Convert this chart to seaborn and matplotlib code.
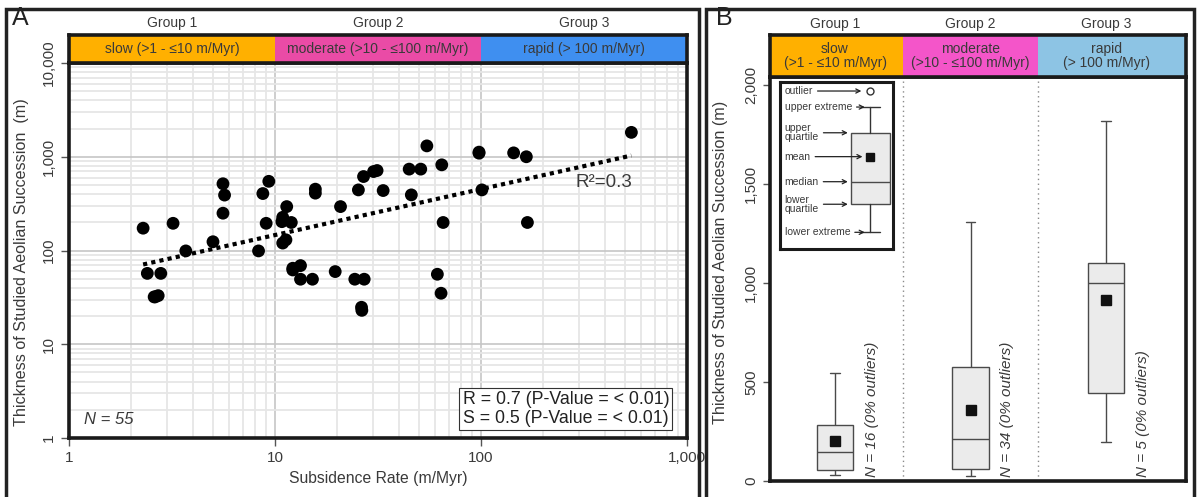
import numpy as np
import pandas as pd
import seaborn as sns
import matplotlib.pyplot as plt
from matplotlib.patches import Rectangle
from matplotlib.ticker import FixedLocator, FuncFormatter, LogLocator, NullFormatter

# Subsidence rate (m/Myr) vs thickness of studied aeolian succession (m)
rate_g1 = [2.29, 3.2, 2.40, 2.79, 2.59, 2.71, 3.69, 5.0, 5.59, 5.69, 5.59, 8.73, 9.33, 9.06, 8.32, 2.62]
thick_g1 = [173, 195, 57, 57, 32, 33, 99, 124, 515, 390, 250, 405, 547, 195, 99, 32]

rate_g2 = [11.4, 10.9, 12.0, 10.8, 11.3, 10.9, 12.2, 13.3, 13.3, 15.2, 19.6, 24.4, 27.1, 26.3,
           15.7, 15.7, 20.8, 25.4, 26.9, 30.1, 31.3, 33.5, 44.8, 51.0, 45.9, 54.6, 64.5, 65.5,
           61.4, 64.0, 97.8, 97.8, 12.2, 26.4]
thick_g2 = [294, 226, 199, 203, 130, 120, 64.7, 69, 49.4, 49.4, 59.6, 49.4, 49.4, 24.8,
            451, 409, 294, 443, 615, 695, 713, 436, 738, 738, 392, 1306, 820, 199,
            55.8, 35, 1092, 1120, 62, 23]

rate_g3 = [101, 144, 166, 168, 537]
thick_g3 = [443, 1100, 1000, 199, 1820]

group_names = ['Group 1', 'Group 2', 'Group 3']
rate_bounds = [1, 10, 100, 1000]
class_a = ['slow (>1 - ≤10 m/Myr)', 'moderate (>10 - ≤100 m/Myr)', 'rapid (> 100 m/Myr)']
class_b = ['slow\n(>1 - ≤10 m/Myr)', 'moderate\n(>10 - ≤100 m/Myr)', 'rapid\n(> 100 m/Myr)']
colors_a = ['#FFB000', '#EA4BA6', '#3F8FF0']
colors_b = ['#FFB000', '#F455C9', '#8DC4E4']
stats_text = ['R = 0.7 (P-Value = < 0.01)', 'S = 0.5 (P-Value = < 0.01)']
r2_text = 'R²=0.3'

# schematic box for the key in panel B (relative units)
key_stats = dict(whislo=0.10, q1=0.268, med=0.403, mean=0.553, q3=0.696, whishi=0.85, fliers=[0.946])
key_labels = ['outlier', 'upper extreme', 'upper\nquartile', 'mean', 'median', 'lower\nquartile', 'lower extreme']
key_y = [0.946, 0.85, 0.696, 0.553, 0.403, 0.268, 0.10]
key_tip = [0.72, 0.75, 0.60, 0.73, 0.60, 0.60, 0.75]

df = pd.DataFrame({
    'rate': rate_g1 + rate_g2 + rate_g3,
    'thickness': thick_g1 + thick_g2 + thick_g3,
})
df['group'] = pd.cut(df['rate'], bins=rate_bounds, labels=group_names, right=True).astype(str)

sns.set_theme(style='white')
plt.rcParams['font.family'] = ['Liberation Sans', 'DejaVu Sans']
txt_col = '#3a3a3a'

W, H = 1198, 497
fig = plt.figure(figsize=(W / 100, H / 100), dpi=100)


def rect(l, t, r, b):
    return [l / W, 1 - b / H, (r - l) / W, (b - t) / H]


# outer panel frames
for x0, x1 in [(6, 699), (706, 1194)]:
    fig.add_artist(Rectangle((x0 / W, -10 / H), (x1 - x0) / W, (H + 10 - 9) / H, fill=False,
                             lw=2.5, ec='#222222', transform=fig.transFigure, clip_on=False))
fig.text(12 / W, 1 - 18 / H, 'A', fontsize=18, va='center', ha='left', color='#222')
fig.text(716 / W, 1 - 18 / H, 'B', fontsize=18, va='center', ha='left', color='#222')

# ---------------- panel A ----------------
ax_a = fig.add_axes(rect(69, 63, 687, 438))
ax_a.set_xscale('log')
ax_a.set_yscale('log')
ax_a.set_xlim(1, 1000)
ax_a.set_ylim(1, 10000)
for axis in (ax_a.xaxis, ax_a.yaxis):
    axis.set_major_locator(LogLocator(base=10))
    axis.set_minor_locator(LogLocator(base=10, subs=np.arange(2, 10)))
    axis.set_minor_formatter(NullFormatter())
    axis.set_major_formatter(FuncFormatter(lambda v, p: f'{v:,.0f}'))
ax_a.grid(which='minor', color='#E6E6E6', lw=1.3)
ax_a.grid(which='major', color='#C6C6C6', lw=1.2)
ax_a.set_axisbelow(True)

sns.scatterplot(data=df, x='rate', y='thickness', color='black', s=85, edgecolor='none',
                ax=ax_a, zorder=3, legend=False)

# power-law fit (straight line in log-log space)
lx = np.log10(df['rate'])
ly = np.log10(df['thickness'])
slope, icpt = np.polyfit(lx, ly, 1)
xf = np.array([df['rate'].min(), df['rate'].max()])
ax_a.plot(xf, 10 ** (icpt + slope * np.log10(xf)), color='black', lw=3, ls=(0, (1, 1)), zorder=4)
ax_a.text(0.865, 0.67, r2_text, transform=ax_a.transAxes, fontsize=13.5, color=txt_col, ha='center')

ax_a.text(0.637, 0.03, '\n'.join(stats_text), transform=ax_a.transAxes, fontsize=12.8,
          color='#222', ha='left', va='bottom', linespacing=1.12,
          bbox=dict(boxstyle='square,pad=0.18', fc='white', ec='#333', lw=0.8))
ax_a.text(0.025, 0.03, 'N = 55', transform=ax_a.transAxes, fontsize=12, style='italic',
          color=txt_col, ha='left', va='bottom')

ax_a.set_xlabel('Subsidence Rate (m/Myr)', fontsize=11.3, color=txt_col, labelpad=4)
ax_a.set_ylabel('Thickness of Studied Aeolian Succession  (m)', fontsize=11.6, color=txt_col)
ax_a.yaxis.set_label_coords(-0.064, 0.47)
ax_a.tick_params(which='major', length=6, width=1, direction='out', colors='#555',
                 labelcolor=txt_col, labelsize=11, bottom=True, left=True)
ax_a.tick_params(which='minor', length=0)
ax_a.tick_params(axis='y', labelrotation=90)
for t in ax_a.get_yticklabels():
    t.set_va('center')
for s in ax_a.spines.values():
    s.set_linewidth(2.6)
    s.set_color('#1a1a1a')

hdr_a = fig.add_axes(rect(69, 35, 687, 63))
hdr_a.set_xscale('log')
hdr_a.set_xlim(1, 1000)
hdr_a.set_ylim(0, 1)
for lo, hi, c, lab, g in zip(rate_bounds[:-1], rate_bounds[1:], colors_a, class_a, group_names):
    hdr_a.axvspan(lo, hi, color=c, lw=0)
    mid = np.sqrt(lo * hi)
    hdr_a.text(mid, 0.5, lab, ha='center', va='center', fontsize=10, color=txt_col)
    hdr_a.text(mid, 1.42, g, ha='center', va='center', fontsize=10, color=txt_col)
hdr_a.set_xticks([])
hdr_a.set_yticks([])
hdr_a.minorticks_off()
for s in hdr_a.spines.values():
    s.set_linewidth(2.6)
    s.set_color('#1a1a1a')

# ---------------- panel B ----------------
xl_b = (-0.48, 2.59)
ax_b = fig.add_axes(rect(770, 77, 1186, 481))
sns.boxplot(data=df, x='group', y='thickness', order=group_names, width=0.27,
            color='#EBEBEB', saturation=1, linecolor='#4a4a4a', linewidth=1,
            showmeans=True, whis=1.5, fliersize=5,
            meanprops=dict(marker='s', markerfacecolor='#111', markeredgecolor='#111', markersize=7),
            ax=ax_b)
# shorter whisker caps, as in the original figure
for ln in ax_b.lines:
    xd, yd = np.asarray(ln.get_xdata(), float), np.asarray(ln.get_ydata(), float)
    if len(xd) == 2 and yd[0] == yd[1] and abs(abs(xd[1] - xd[0]) - 0.135) < 0.01:
        c = xd.mean()
        ln.set_xdata([c - 0.035, c + 0.035])
ax_b.set_xlim(*xl_b)
ax_b.set_ylim(0, 2040)
for xs in [0.5, 1.5]:
    ax_b.axvline(xs, color='#8a8a8a', lw=1, ls=(0, (1, 2.5)))

for i, g in enumerate(group_names):
    vals = df.loc[df['group'] == g, 'thickness'].to_numpy()
    q1, q3 = np.percentile(vals, [25, 75])
    out = np.mean((vals < q1 - 1.5 * (q3 - q1)) | (vals > q3 + 1.5 * (q3 - q1))) * 100
    ax_b.text(i + 0.27, 18, f'N = {len(vals)} ({out:.0f}% outliers)', rotation=90, ha='center',
              va='bottom', fontsize=11, style='italic', color=txt_col)

ax_b.yaxis.set_major_locator(FixedLocator([0, 500, 1000, 1500, 2000]))
ax_b.yaxis.set_major_formatter(FuncFormatter(lambda v, p: f'{v:,.0f}'))
ax_b.set_xticks([])
ax_b.set_xlabel('')
ax_b.set_ylabel('Thickness of Studied Aeolian Succession (m)', fontsize=11.6, color=txt_col)
ax_b.yaxis.set_label_coords(-0.1, 0.54)
ax_b.tick_params(axis='y', length=5, width=1, direction='out', colors='#555',
                 labelcolor=txt_col, labelsize=11, labelrotation=90, left=True)
for t in ax_b.get_yticklabels():
    t.set_va('center')
for s in ax_b.spines.values():
    s.set_linewidth(2.6)
    s.set_color('#1a1a1a')

hdr_b = fig.add_axes(rect(770, 35, 1186, 77))
hdr_b.set_xlim(*xl_b)
hdr_b.set_ylim(0, 1)
edges_b = [-0.5, 0.5, 1.5, 2.6]
for i, (c, lab, g) in enumerate(zip(colors_b, class_b, group_names)):
    hdr_b.axvspan(edges_b[i], edges_b[i + 1], color=c, lw=0)
    hdr_b.text(i, 0.5, lab, ha='center', va='center', fontsize=10, color=txt_col, linespacing=1.0)
    hdr_b.text(i, 1.27, g, ha='center', va='center', fontsize=10, color=txt_col)
hdr_b.set_xticks([])
hdr_b.set_yticks([])
for s in hdr_b.spines.values():
    s.set_linewidth(2.6)
    s.set_color('#1a1a1a')

# key explaining the box plot
ax_k = ax_b.inset_axes([10 / 416, (481 - 249) / 404, 113 / 416, 167 / 404])
ax_k.set_xlim(0, 1)
ax_k.set_ylim(0, 1)
ax_k.bxp([dict(key_stats)], positions=[0.80], widths=0.34, showmeans=True, patch_artist=True,
         boxprops=dict(facecolor='#EBEBEB', edgecolor='#4a4a4a', lw=1),
         medianprops=dict(color='#4a4a4a', lw=1),
         whiskerprops=dict(color='#333', lw=1), capprops=dict(color='#333', lw=1),
         flierprops=dict(marker='o', mfc='white', mec='#333', ms=5),
         meanprops=dict(marker='s', markerfacecolor='#111', markeredgecolor='#111', markersize=6),
         manage_ticks=False)
for lab, y, tip in zip(key_labels, key_y, key_tip):
    ax_k.annotate(lab, xy=(tip, y), xytext=(0.04, y), ha='left', va='center', fontsize=7.5,
                  color=txt_col, linespacing=0.9,
                  arrowprops=dict(arrowstyle='->', color='#222', lw=0.9, shrinkA=1, shrinkB=0))
ax_k.set_xticks([])
ax_k.set_yticks([])
for s in ax_k.spines.values():
    s.set_linewidth(2.2)
    s.set_color('#1a1a1a')

fig.savefig('out.png', dpi=100)
